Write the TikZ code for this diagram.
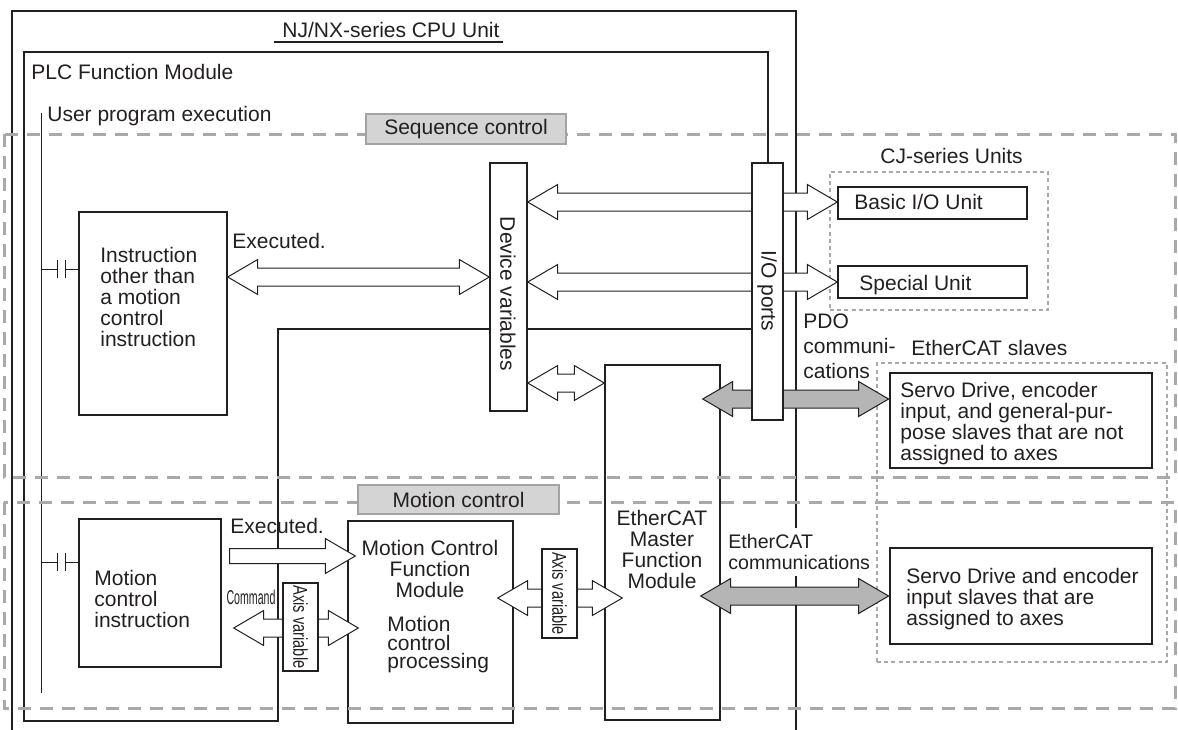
\documentclass[tikz,border=0pt]{standalone}
\usepackage{fontspec}
\setmainfont{Liberation Sans}
\usepackage{graphicx}
\usetikzlibrary{positioning,calc,fit}

\definecolor{ink}{HTML}{231F20}
\definecolor{dashgray}{HTML}{A9A9A9}
\definecolor{taggray}{HTML}{A3A3A3}
\definecolor{tagfill}{HTML}{D4D4D4}
\definecolor{arrowgray}{HTML}{B5B5B5}

\newcommand{\fs}{\fontsize{10.5}{10.5}\selectfont}

% horizontal block arrows: #2 left point, #3 right point
\newcommand{\dblarrow}[3][hollow]{%
  \draw[#1] let \p1=#2, \p2=#3 in
    (\x1,\y1) -- ++(15pt,8.75pt) -- ++(0pt,-4.25pt) -- (\x2-15pt,\y1+4.5pt)
    -- ++(0pt,4.25pt) -- (\x2,\y1) -- ++(-15pt,-8.75pt) -- ++(0pt,4.25pt)
    -- (\x1+15pt,\y1-4.5pt) -- ++(0pt,-4.25pt) -- cycle;}
\newcommand{\onearrow}[3][hollow]{%
  \draw[#1] let \p1=#2, \p2=#3 in
    (\x1,\y1+3.75pt) -- (\x2-15pt,\y1+3.75pt) -- ++(0pt,5pt) -- (\x2,\y1)
    -- ++(-15pt,-8.75pt) -- ++(0pt,5pt) -- (\x1,\y1-3.75pt) -- cycle;}

\tikzset{
  unitbox/.style={draw=ink, line width=0.7pt, inner sep=0pt},
  slavebox/.style={draw=ink, line width=1.4pt, inner sep=0pt},
  groupbox/.style={draw=dashgray, line width=0.8pt, dash pattern=on 2pt off 1.6pt, inner sep=0pt},
  zone/.style={draw=dashgray, line width=1.5pt, dash pattern=on 6.5pt off 4.5pt},
  zonetag/.style={draw=taggray, fill=tagfill, line width=1pt, inner sep=0pt},
  txt/.style={inner sep=0pt, align=left},
  moduleline/.style={draw=ink, line width=0.7pt},
  rail/.style={draw=ink, line width=0.5pt},
  hollow/.style={draw=ink, line width=0.5pt, fill=white},
  shaded/.style={draw=ink, line width=0.5pt, fill=arrowgray},
}

\begin{document}
\begin{tikzpicture}[x=0.5pt, y=-0.5pt, font=\fs, text=ink]
\useasboundingbox (0,0) rectangle (1178,729);

% CPU Unit and PLC Function Module
\draw[line width=1.2pt, draw=ink] (12,740) -- (12,11) -- (796,11) -- (796,740);
\node[txt, anchor=base] (cputitle) at (391,37) {NJ/NX-series CPU Unit};
\draw[line width=0.8pt, draw=ink] ($(cputitle.base west)+(-4pt,-2.5pt)$) -- ($(cputitle.base east)+(1.5pt,-2.5pt)$);
\draw[moduleline] (24,52) -- (768,52) -- (768,329) -- (278,329) -- (278,721) -- (24,721) -- cycle;
\node[txt, anchor=north west] (plclabel) at (31,64) {PLC Function Module};

% user program
\node[txt, anchor=north west] (userlabel) at (47,106) {User program execution};
\draw[rail] (41,113) -- (41,693);

\node[unitbox, fit={(79,212) (227,415)}] (instr) {};
\node[txt, anchor=north west] (instrtext) at (100,247) {Instruction\\other than\\a motion\\control\\instruction};
\node[unitbox, fill=white, fit={(490,163) (527,411)}] (devvar) {};
\node[txt, rotate=-90] (devvartext) at (508,294) {Device variables};

\node[unitbox, fit={(79,519) (221,667)}] (mcinstr) {};
\node[txt, anchor=north west] (mcinstrtext) at (94,570) {Motion\\control\\instruction};
\node[unitbox, fit={(348,521) (513,723)}] (mcfm) {};
\node[txt, align=center, anchor=north] (mcfmtext) at (430,540) {Motion Control\\Function\\Module};
\node[txt, anchor=north west, font=\fontsize{10.5}{9.2}\selectfont] (mcproc) at (387,616) {Motion\\control\\processing};
\node[unitbox, fit={(605,365) (720,720)}] (ecm) {};
\node[txt, align=center, anchor=north] (ecmtext) at (662,510) {EtherCAT\\Master\\Function\\Module};

% contacts
\foreach \blk/\cy in {instr/269, mcinstr/562} {
  \draw[rail] (41,\cy) -- (57,\cy) (65,\cy) -- (\blk.west |- 0,\cy);
  \draw[rail] (57,\cy-9) -- (57,\cy+9) (65,\cy-9) -- (65,\cy+9);
}

% labels
\node[txt, anchor=north west] (execa) at (232,233) {Executed.};
\node[txt, anchor=north west] (execb) at (230,518) {Executed.};
\node[txt, anchor=north west, font=\fontsize{10.5}{12.5}\selectfont] (pdo) at (803,313) {PDO\\communi-\\cations};
\node[txt, anchor=north west, fill=white, inner ysep=3pt, font=\fontsize{9.8}{10.5}\selectfont] (ecomm) at (728,528) {EtherCAT\\communications};
\node[txt] (command) at (251,597) {\fontsize{10}{10}\selectfont\scalebox{0.53}[1]{Command}};

% CJ-series Units
\node[groupbox, fit={(830,172) (1048,310)}] (cjgroup) {};
\node[txt, anchor=base west] (cjlabel) at (880,163) {CJ-series Units};
\node[unitbox, fit={(838,187) (1027,219)}] (basic) {};
\node[txt, anchor=base west] (basictext) at (854,209) {Basic I/O Unit};
\node[unitbox, fit={(838,266) (1027,298)}] (special) {};
\node[txt, anchor=base west] (specialtext) at (859,290) {Special Unit};

% EtherCAT slaves
\node[groupbox, fit={(877,363) (1167,662)}] (slavegroup) {};
\node[txt, anchor=base west] (slavelabel) at (911,355) {EtherCAT slaves};
\node[slavebox, fit={(890,373) (1152,468)}] (servoa) {};
\node[txt, anchor=north west] (servoatext) at (900,382) {Servo Drive, encoder\\input, and general-pur-\\pose slaves that are not\\assigned to axes};
\node[slavebox, fit={(890,548) (1152,644)}] (servob) {};
\node[txt, anchor=north west] (servobtext) at (906,568) {Servo Drive and encoder\\input slaves that are\\assigned to axes};

% arrows
\coordinate (rowa) at (0,202);
\coordinate (rowb) at (0,282);
\coordinate (rowc) at (0,277);
\coordinate (rowd) at (0,383);
\coordinate (rowe) at (0,399);
\coordinate (rowf) at (0,596);
\coordinate (rowg) at (0,556);
\coordinate (rowh) at (0,628);
\coordinate (rowi) at (0,598);
\dblarrow{(devvar.east |- rowa)}{(basic.west |- rowa)}
\dblarrow{(devvar.east |- rowb)}{(special.west |- rowb)}
\dblarrow{(instr.east |- rowc)}{(devvar.west |- rowc)}
\dblarrow{(devvar.east |- rowd)}{(ecm.west |- rowd)}
\dblarrow[shaded]{($(ecm.east |- rowe)+(-9pt,0pt)$)}{(servoa.west |- rowe)}
\dblarrow[shaded]{($(ecm.east |- rowf)+(-10pt,0pt)$)}{(servob.west |- rowf)}
\onearrow{($(mcinstr.east |- rowg)+(4pt,0pt)$)}{($(mcfm.west |- rowg)+(4pt,0pt)$)}
\dblarrow{($(mcinstr.east |- rowh)+(6pt,0pt)$)}{($(mcfm.west |- rowh)+(5.5pt,0pt)$)}
\dblarrow{($(mcfm.east |- rowi)+(-8pt,0pt)$)}{($(ecm.west |- rowi)+(9pt,0pt)$)}

\node[unitbox, fill=white, fit={(752,163) (783,420)}] (ioports) {};
\node[txt, rotate=-90] (iotext) at (767,291) {I/O ports};
\node[unitbox, fill=white, fit={(283,583) (318,671)}] (axisa) {};
\node[txt, rotate=-90] (axisatext) at (axisa.center) {\fontsize{10}{10}\selectfont\scalebox{0.73}[1]{Axis variable}};
\node[unitbox, fill=white, fit={(542,549) (577,638)}] (axisb) {};
\node[txt, rotate=-90] (axisbtext) at (axisb.center) {\fontsize{10}{10}\selectfont\scalebox{0.73}[1]{Axis variable}};

% control zones
\draw[zone] (4,134) rectangle (1175,477);
\draw[zone] (4,502) rectangle (1175,708);
\node[zonetag, minimum width=100pt, minimum height=15pt] (seqtag) at (466,129) {Sequence control};
\node[zonetag, minimum width=100.5pt, minimum height=14.5pt] (mottag) at (458.5,499.5) {Motion control};
\end{tikzpicture}
\end{document}
